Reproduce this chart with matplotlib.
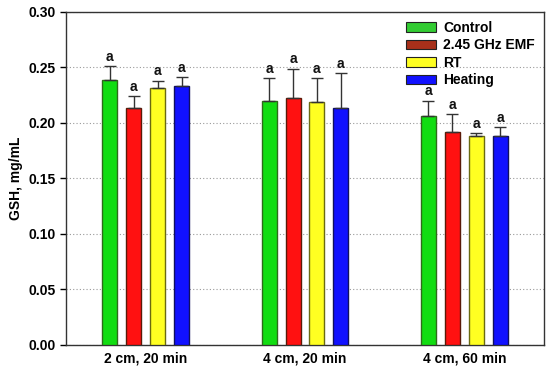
import numpy as np
import matplotlib.pyplot as plt
from matplotlib.patches import Patch

plt.rcParams['font.family'] = ['Liberation Sans', 'DejaVu Sans']
plt.rcParams['font.weight'] = 'bold'

groups = ['2 cm, 20 min', '4 cm, 20 min', '4 cm, 60 min']
series = ['Control', '2.45 GHz EMF', 'RT', 'Heating']
control = [0.239, 0.220, 0.206]
emf = [0.213, 0.222, 0.192]
rt = [0.231, 0.219, 0.188]
heating = [0.233, 0.213, 0.188]
control_err = [0.012, 0.020, 0.014]
emf_err = [0.011, 0.027, 0.016]
rt_err = [0.007, 0.021, 0.003]
heating_err = [0.008, 0.032, 0.008]
letters = ['a', 'a', 'a', 'a']

values = [control, emf, rt, heating]
errors = [control_err, emf_err, rt_err, heating_err]
faces = ['#11dd11', '#ff1111', '#ffff22', '#1111ff']
edges = ['#2f6a1a', '#5a1a08', '#6a6a10', '#101060']
legend_faces = ['#33cc33', '#a8301a', '#ffff22', '#1111ff']

fig = plt.figure(figsize=(5.5, 3.72), dpi=100)
ax = fig.add_axes([0.12, 0.073, 0.869, 0.895])

x = np.arange(len(groups))
step = 0.15
width = 0.094
for i in range(len(series)):
    pos = x + (i - 1.5) * step
    ax.bar(pos, values[i], width, color=faces[i], edgecolor=edges[i], linewidth=1.0, zorder=3)
    ax.errorbar(pos, values[i], yerr=[np.zeros(len(groups)), errors[i]], fmt='none',
                ecolor='#333333', elinewidth=1.0, capsize=4, capthick=1.0, zorder=4)
    for p, v, e in zip(pos, values[i], errors[i]):
        ax.text(p, v + e + 0.002, letters[i], ha='center', va='bottom',
                fontsize=10, fontweight='bold', color='#111111')

ax.set_xlim(-0.5, 2.5)
ax.set_ylim(0, 0.30)
ax.set_yticks(np.arange(0, 0.31, 0.05))
ax.set_yticklabels(['%.2f' % t for t in np.arange(0, 0.31, 0.05)], fontsize=10, fontweight='bold')
ax.set_xticks(x)
ax.set_xticklabels(groups, fontsize=10, fontweight='bold')
ax.tick_params(axis='x', length=0, pad=5)
ax.tick_params(axis='y', length=4, direction='out', width=1)
ax.set_ylabel('GSH, mg/mL', fontsize=10, fontweight='bold')
ax.yaxis.grid(True, linestyle=(0, (1, 2)), color='#999999', linewidth=0.8, zorder=0)
for s in ax.spines.values():
    s.set_color('#333333')
    s.set_linewidth(1.0)

handles = [Patch(facecolor=legend_faces[i], edgecolor='#222222', linewidth=0.8) for i in range(len(series))]
ax.legend(handles, series, loc='upper right', bbox_to_anchor=(1.0, 1.0), frameon=False,
          prop={'weight': 'bold', 'size': 10}, handlelength=2.2, handleheight=0.7,
          labelspacing=0.25, borderaxespad=0.35, borderpad=0.3, handletextpad=0.5)

fig.savefig('out.png', dpi=100)
